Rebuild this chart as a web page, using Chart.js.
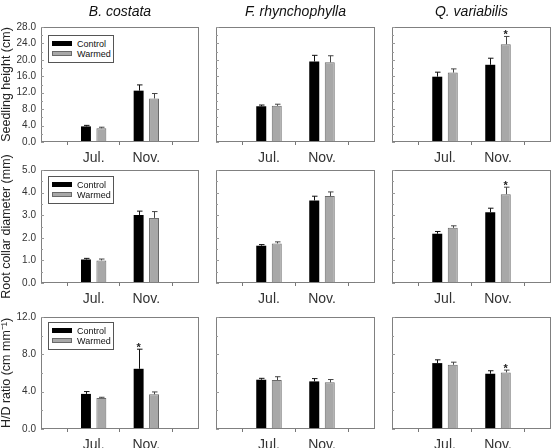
<!DOCTYPE html>
<html>
<head>
<meta charset="utf-8">
<script src="https://cdn.jsdelivr.net/npm/chart.js@4.4.1/dist/chart.umd.min.js"></script>
<style>
  html, body { margin:0; padding:0; background:#fff; width:555px; height:448px; overflow:hidden; position:relative; font-family:"Liberation Sans", Arial, sans-serif; }
  canvas { position:absolute; }
  .legend { position:absolute; border:1px solid #555; background:#fff; box-sizing:border-box; font-size:9px; color:#111; }
  .legend .row { position:absolute; left:3px; height:10px; line-height:10px; white-space:nowrap; }
  .legend .sw { display:inline-block; width:20px; height:5px; vertical-align:middle; margin-right:5px; box-sizing:border-box; position:relative; top:-1px; }
</style>
</head>
<body>
<script>
// ---- data ----
const categories = ['Jul.', 'Nov.'];
const species = ['B. costata', 'F. rhynchophylla', 'Q. variabilis'];
const seriesNames = ['Control', 'Warmed'];
const variableLabels = ['Seedling height (cm)', 'Root collar diameter (mm)', 'H/D ratio (cm mm\u207B\u00B9)'];
const yMaxima = [28, 5, 12];
const yStepSizes = [4, 1, 4];

// Seedling height (cm): per species [Jul., Nov.]
const heightControl    = [[3.8, 12.5], [8.7, 19.6], [15.9, 18.8]];
const heightControlErr = [[0.25, 1.4], [0.3, 1.5], [1.1, 1.6]];
const heightWarmed     = [[3.35, 10.6], [8.8, 19.4], [16.9, 23.8]];
const heightWarmedErr  = [[0.25, 1.2], [0.4, 1.6], [0.9, 1.9]];
const heightSigControl = [[0, 0], [0, 0], [0, 0]];
const heightSigWarmed  = [[0, 0], [0, 0], [0, 1]];

// Root collar diameter (mm)
const diamControl    = [[1.04, 3.01], [1.65, 3.65], [2.18, 3.13]];
const diamControlErr = [[0.05, 0.17], [0.05, 0.19], [0.1, 0.18]];
const diamWarmed     = [[1.0, 2.88], [1.75, 3.85], [2.44, 3.93]];
const diamWarmedErr  = [[0.06, 0.28], [0.07, 0.18], [0.09, 0.31]];
const diamSigControl = [[0, 0], [0, 0], [0, 0]];
const diamSigWarmed  = [[0, 0], [0, 0], [0, 1]];

// H/D ratio (cm mm-1)
const hdControl    = [[3.76, 6.45], [5.28, 5.1], [7.06, 5.92]];
const hdControlErr = [[0.25, 2.1], [0.15, 0.3], [0.35, 0.32]];
const hdWarmed     = [[3.33, 3.72], [5.25, 5.0], [6.88, 6.06]];
const hdWarmedErr  = [[0.07, 0.25], [0.35, 0.3], [0.28, 0.25]];
const hdSigControl = [[0, 1], [0, 0], [0, 0]];
const hdSigWarmed  = [[0, 0], [0, 0], [0, 1]];

const rowsData = [
  { c: heightControl, ce: heightControlErr, w: heightWarmed, we: heightWarmedErr, cs: heightSigControl, ws: heightSigWarmed },
  { c: diamControl, ce: diamControlErr, w: diamWarmed, we: diamWarmedErr, cs: diamSigControl, ws: diamSigWarmed },
  { c: hdControl, ce: hdControlErr, w: hdWarmed, we: hdWarmedErr, cs: hdSigControl, ws: hdSigWarmed }
];

// ---- layout ----
const colBounds = [[41, 199], [216, 375], [392, 551]];
const rowBounds = [[27, 142], [170, 283], [317, 429]];
const FONT = '"Liberation Sans", Arial, sans-serif';

const framePlugin = {
  id: 'frame',
  afterDraw(chart) {
    const a = chart.chartArea, ctx = chart.ctx;
    const ys = chart.scales.y;
    ctx.save();
    ctx.strokeStyle = '#808080';
    ctx.lineWidth = 1;
    ctx.strokeRect(Math.round(a.left) + 0.5, Math.round(a.top) + 0.5, Math.round(a.right - a.left) - 1, Math.round(a.bottom - a.top) - 1);
    ctx.strokeStyle = '#9a9a9a';
    ys.ticks.forEach(t => {
      const y = Math.round(ys.getPixelForValue(t.value)) + 0.5;
      ctx.beginPath(); ctx.moveTo(a.left, y); ctx.lineTo(a.left + 3, y); ctx.stroke();
      const yh = Math.round(ys.getPixelForValue(t.value + ys.options.ticks.stepSize / 2)) + 0.5;
      if (yh > a.top + 1) { ctx.beginPath(); ctx.moveTo(a.left, yh); ctx.lineTo(a.left + 2, yh); ctx.stroke(); }
    });
    ctx.restore();
  }
};

const errorPlugin = {
  id: 'errbars',
  afterDatasetsDraw(chart) {
    const ctx = chart.ctx, ys = chart.scales.y;
    ctx.save();
    chart.data.datasets.forEach((ds, di) => {
      const meta = chart.getDatasetMeta(di);
      ds.data.forEach((v, i) => {
        if (v == null) return;
        const bar = meta.data[i];
        const yTop = ys.getPixelForValue(v + ds.errors[i]);
        const x = Math.round(bar.x) + 0.5;
        ctx.strokeStyle = ds.errColor;
        ctx.lineWidth = 1;
        ctx.beginPath();
        ctx.moveTo(x, bar.y); ctx.lineTo(x, yTop);
        ctx.moveTo(x - 2.5, yTop); ctx.lineTo(x + 3, yTop);
        ctx.stroke();
        if (ds.sig[i]) {
          ctx.fillStyle = '#222';
          ctx.font = 'bold 11px ' + FONT;
          ctx.textAlign = 'center';
          ctx.textBaseline = 'alphabetic';
          ctx.fillText('*', bar.x, yTop + 2);
        }
      });
    });
    ctx.restore();
  }
};

const pad = arr => [null, ...arr, null];

for (let r = 0; r < 3; r++) {
  for (let c = 0; c < 3; c++) {
    const [pl, pr] = colBounds[c];
    const [pt, pb] = rowBounds[r];
    const left = c === 0 ? 0 : pl - 6;
    const L = pl - left;
    const R = L;                       // empty right-hand axis of equal width centres the title on the plot
    const T = r === 0 ? pt : (c === 0 ? 30 : 10);
    const top = pt - T;
    const B = 26;
    const W = pr + R - left;
    const H = pb + B - top;
    const cv = document.createElement('canvas');
    cv.width = W; cv.height = H;
    cv.style.left = left + 'px'; cv.style.top = top + 'px';
    cv.style.width = W + 'px'; cv.style.height = H + 'px';
    document.body.appendChild(cv);
    const d = rowsData[r];
    new Chart(cv, {
      type: 'bar',
      data: {
        labels: ['', ...categories, ''],
        datasets: [
          { label: seriesNames[0], data: pad(d.c[c]), errors: pad(d.ce[c]), sig: pad(d.cs[c]),
            backgroundColor: '#000', borderColor: '#000', borderWidth: 0, errColor: '#111' },
          { label: seriesNames[1], data: pad(d.w[c]), errors: pad(d.we[c]), sig: pad(d.ws[c]),
            backgroundColor: '#a8a8a8', borderColor: '#6a6a6a', borderWidth: 1, errColor: '#444' }
        ]
      },
      options: {
        responsive: false,
        animation: false,
        events: [],
        devicePixelRatio: 1,
        categoryPercentage: 0.585,
        barPercentage: 0.645,
        layout: { padding: { top: r === 0 ? 0 : T, right: 0, left: 0, bottom: 0 } },
        plugins: {
          legend: { display: false },
          tooltip: { enabled: false },
          title: {
            display: r === 0,
            text: species[c],
            font: { family: FONT, size: 14, style: 'italic', weight: 'normal', lineHeight: 1.2 },
            color: '#111',
            padding: { top: 3.3, bottom: 6.9 }
          }
        },
        scales: {
          x: {
            offset: false,
            grid: { display: true, drawOnChartArea: false, tickLength: 3, color: '#777' },
            border: { display: false },
            ticks: { font: { family: FONT, size: 14 }, color: '#333', padding: 5, autoSkip: false, maxRotation: 0 },
            afterFit(s) { s.height = B; }
          },
          y: {
            min: 0, max: yMaxima[r],
            grid: { display: false, drawTicks: false, tickLength: 0 },
            border: { display: false },
            ticks: { display: c === 0, stepSize: yStepSizes[r], callback: v => v.toFixed(1),
                     font: { family: FONT, size: 10 }, color: '#333', padding: 5 },
            title: { display: c === 0, text: variableLabels[r], font: { family: FONT, size: 12.5, lineHeight: 1 }, color: '#222', padding: { top: 0, bottom: 0 } },
            afterFit(s) { s.width = L; }
          },
          yRight: {
            position: 'right',
            min: 0, max: yMaxima[r],
            grid: { display: false, drawTicks: false },
            border: { display: false },
            ticks: { display: false },
            afterFit(s) { s.width = R; }
          }
        }
      },
      plugins: [framePlugin, errorPlugin]
    });
  }
}

// legends (column 1 panels)
const legendTops = [35, 176, 322];
legendTops.forEach(t => {
  const lg = document.createElement('div');
  lg.className = 'legend';
  lg.style.left = '48px'; lg.style.top = t + 'px';
  lg.style.width = '66px'; lg.style.height = '28px';
  lg.innerHTML =
    '<div class="row" style="top:3px"><span class="sw" style="background:#000"></span>' + seriesNames[0] + '</div>' +
    '<div class="row" style="top:13px"><span class="sw" style="background:#a8a8a8;border:1px solid #6a6a6a"></span>' + seriesNames[1] + '</div>';
  document.body.appendChild(lg);
});
</script>
</body>
</html>
